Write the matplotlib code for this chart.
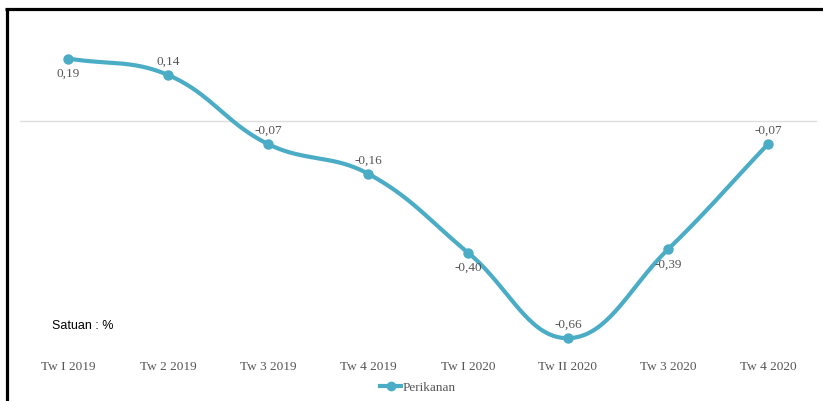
import numpy as np
import matplotlib
matplotlib.use("Agg")
import matplotlib.pyplot as plt
from matplotlib.lines import Line2D

# quarterly growth, perikanan (%)
quarters = ["Tw I 2019", "Tw 2 2019", "Tw 3 2019", "Tw 4 2019",
            "Tw I 2020", "Tw II 2020", "Tw 3 2020", "Tw 4 2020"]
perikanan = [0.19, 0.14, -0.07, -0.16, -0.40, -0.66, -0.39, -0.07]
label_above = [False, True, True, True, False, True, False, True]

line_color = "#4bacc6"
text_color = "#555555"


def spline_path(pts, tension=0.4, n=40):
    # cardinal-style bezier through the points (display coords)
    m = len(pts)
    cps = []
    for i in range(m):
        prev = pts[max(i - 1, 0)]
        nxt = pts[min(i + 1, m - 1)]
        cur = pts[i]
        d01 = np.hypot(*(cur - prev))
        d12 = np.hypot(*(nxt - cur))
        tot = d01 + d12 if d01 + d12 > 0 else 1
        fa = tension * d01 / tot
        fb = tension * d12 / tot
        cps.append((cur - fa * (nxt - prev), cur + fb * (nxt - prev)))
    out = []
    t = np.linspace(0, 1, n)[:, None]
    for i in range(m - 1):
        p0 = pts[i]
        p1 = cps[i][1]
        p2 = cps[i + 1][0]
        p3 = pts[i + 1]
        seg = ((1 - t) ** 3) * p0 + 3 * ((1 - t) ** 2) * t * p1 \
            + 3 * (1 - t) * t ** 2 * p2 + t ** 3 * p3
        out.append(seg if i == 0 else seg[1:])
    return np.vstack(out)


fig = plt.figure(figsize=(8.23, 4.02), dpi=100)
ax = fig.add_axes([20 / 823, 0.1236, 797 / 823, 0.8184])
ax.set_xlim(-0.48, 7.49)
ax.set_ylim(-0.7, 0.3)

x = np.arange(len(quarters))
ax.axhline(0, color="#dedede", lw=1, zorder=1)

disp = ax.transData.transform(np.column_stack([x, perikanan]))
curve = ax.transData.inverted().transform(spline_path(disp))
ax.plot(curve[:, 0], curve[:, 1], color=line_color, lw=3, zorder=3,
        solid_capstyle="round")
ax.plot(x, perikanan, "o", color=line_color, ms=6.5, zorder=4)

for xi, v, up in zip(x, perikanan, label_above):
    ax.annotate(f"{v:.2f}".replace(".", ","), (xi, v),
                xytext=(0, 14 if up else -14), textcoords="offset pixels",
                ha="center", va="center",
                fontsize=9.5, color=text_color, family="Liberation Serif")

ax.set_xticks(x)
ax.set_xticklabels(quarters, fontsize=9.5, color=text_color,
                   family="Liberation Serif")
ax.tick_params(axis="x", length=0, pad=6)
ax.set_yticks([])
for s in ax.spines.values():
    s.set_visible(False)

ax.text(52 / 823 * 823 / 797 - 20 / 797, 0.08, "Satuan : %",
        transform=ax.transAxes, fontsize=9, color="black",
        family="Liberation Sans", va="center")

handle = Line2D([], [], color=line_color, lw=3, marker="o", ms=6)
fig.legend([handle], ["Perikanan"], loc="center",
           bbox_to_anchor=(418 / 823, 1 - 388 / 402), frameon=False,
           handlelength=1.6, handletextpad=0.1,
           prop={"family": "Liberation Serif", "size": 9.5}, labelcolor=text_color)

# frame on the left and top edges
fig.add_artist(Line2D([6.5 / 823, 6.5 / 823], [0, 1 - 9.5 / 402],
                      color="black", lw=2.3, transform=fig.transFigure,
                      solid_capstyle="butt"))
fig.add_artist(Line2D([5 / 823, 1], [1 - 9.5 / 402, 1 - 9.5 / 402],
                      color="black", lw=2.3, transform=fig.transFigure,
                      solid_capstyle="butt"))

fig.savefig("out.png", dpi=100)
